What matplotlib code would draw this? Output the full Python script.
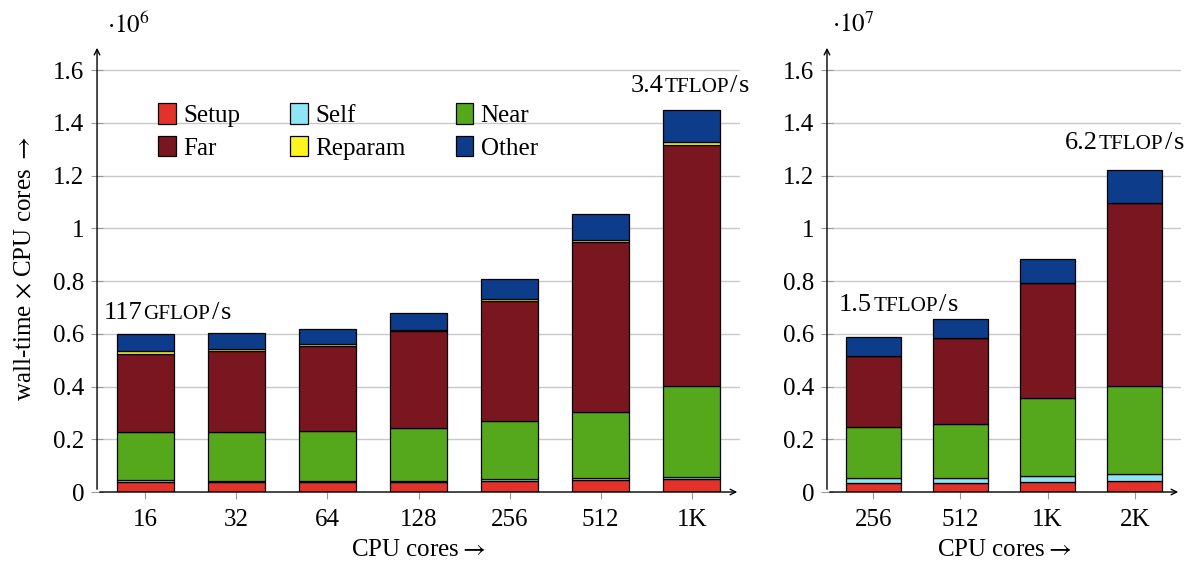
import numpy as np
import matplotlib
matplotlib.use("Agg")
import matplotlib.pyplot as plt
from matplotlib.offsetbox import TextArea, HPacker, AnnotationBbox
from matplotlib.patches import Patch

plt.rcParams['font.family'] = ['Liberation Serif', 'DejaVu Serif']
plt.rcParams['mathtext.fontset'] = 'stix'

# wall-time x cores, left panel in units of 1e6, right panel in units of 1e7
cores_small = ["16", "32", "64", "128", "256", "512", "1K"]
setup_small = [0.038, 0.038, 0.038, 0.038, 0.042, 0.046, 0.048]
self_small = [0.006, 0.005, 0.005, 0.005, 0.006, 0.008, 0.008]
near_small = [0.185, 0.186, 0.187, 0.199, 0.222, 0.250, 0.346]
far_small = [0.296, 0.306, 0.324, 0.368, 0.456, 0.644, 0.915]
reparam_small = [0.008, 0.007, 0.006, 0.006, 0.006, 0.008, 0.010]
other_small = [0.067, 0.061, 0.057, 0.063, 0.075, 0.099, 0.120]

cores_large = ["256", "512", "1K", "2K"]
setup_large = [0.033, 0.033, 0.038, 0.041]
self_large = [0.021, 0.021, 0.023, 0.026]
near_large = [0.192, 0.204, 0.296, 0.335]
far_large = [0.271, 0.325, 0.437, 0.694]
reparam_large = [0.0, 0.0, 0.0, 0.0]
other_large = [0.069, 0.072, 0.091, 0.125]

names = ["Setup", "Self", "Near", "Far", "Reparam", "Other"]
colors = ["#e3322a", "#8ee5f5", "#55a81c", "#7a1620", "#fff51e", "#0d3d8a"]

FS = 18


def stacked(ax, labels, series, scale):
    x = np.arange(len(labels))
    bottom = np.zeros(len(labels))
    for vals, c in zip(series, colors):
        vals = np.array(vals)
        ax.bar(x, vals, 0.63, bottom=bottom, color=c, edgecolor="black",
               linewidth=0.9, zorder=3)
        bottom += vals
    ax.set_xlim(-0.53, len(labels) - 0.47)
    ax.set_ylim(0, 1.695)
    ax.set_xticks(x)
    ax.set_xticklabels(labels, fontsize=FS)
    ticks = np.arange(0, 1.61, 0.2)
    ax.set_yticks(ticks)
    ax.set_yticklabels([f"{t:g}" for t in ticks], fontsize=FS)
    ax.grid(axis="y", color="#c8c8c8", linewidth=1, zorder=0)
    ax.tick_params(axis="x", direction="out", length=5, color="#999999", pad=7)
    ax.tick_params(axis="y", direction="inout", length=8, color="#999999", pad=5)
    for s in ax.spines.values():
        s.set_visible(False)
    ax.annotate("", xy=(1.0, 0), xytext=(0, 0), xycoords="axes fraction",
                arrowprops=dict(arrowstyle="->", lw=1, color="black"), zorder=5)
    ax.annotate("", xy=(0, 1.0), xytext=(0, 0), xycoords="axes fraction",
                arrowprops=dict(arrowstyle="->", lw=1, color="black"), zorder=5)
    ax.text(0.015, 1.045, r"$\cdot 10^{%d}$" % scale, transform=ax.transAxes,
            fontsize=FS, ha="left", va="center")
    ax.set_xlabel(r"CPU cores$\rightarrow$", fontsize=FS, labelpad=6)
    return bottom


def rate(ax, x, y, number, unit):
    parts = [TextArea(number, textprops=dict(fontsize=FS + 1)),
             TextArea(unit, textprops=dict(fontsize=(FS + 1) * 0.8)),
             TextArea("/", textprops=dict(fontsize=FS + 1)),
             TextArea("s", textprops=dict(fontsize=FS + 1))]
    box = HPacker(children=parts, align="baseline", pad=0, sep=1)
    ab = AnnotationBbox(box, (x, y), xycoords="data", frameon=False,
                        box_alignment=(0.5, 0.5), annotation_clip=False)
    ax.add_artist(ab)


fig = plt.figure(figsize=(11.98, 5.70), dpi=100)
ax1 = fig.add_axes([0.081, 0.1368, 0.5367, 0.7842])
ax2 = fig.add_axes([0.6903, 0.1368, 0.2955, 0.7842])

stacked(ax1, cores_small, [setup_small, self_small, near_small, far_small,
                           reparam_small, other_small], 6)
stacked(ax2, cores_large, [setup_large, self_large, near_large, far_large,
                           reparam_large, other_large], 7)

ax1.set_ylabel(r"wall-time $\times$ CPU cores $\rightarrow$", fontsize=FS, labelpad=12)

rate(ax1, 0.24, 0.679, "117", "GFLOP")
rate(ax1, 5.98, 1.54, "3.4", "TFLOP")
rate(ax2, 0.29, 0.709, "1.5", "TFLOP")
rate(ax2, 2.88, 1.323, "6.2", "TFLOP")

# legend fills column-wise, so interleave to get rows Setup/Self/Near, Far/Reparam/Other
order = [0, 3, 1, 4, 2, 5]
handles = [Patch(facecolor=colors[i], edgecolor="black", linewidth=0.9) for i in order]
ax1.legend(handles, [names[i] for i in order], ncol=3, frameon=False,
           loc="upper left", bbox_to_anchor=(0.068, 0.91), fontsize=FS,
           handlelength=0.7, handleheight=0.9, handletextpad=0.3,
           columnspacing=2.0, labelspacing=0.35, borderpad=0.2)

fig.savefig("out.png", dpi=100)
